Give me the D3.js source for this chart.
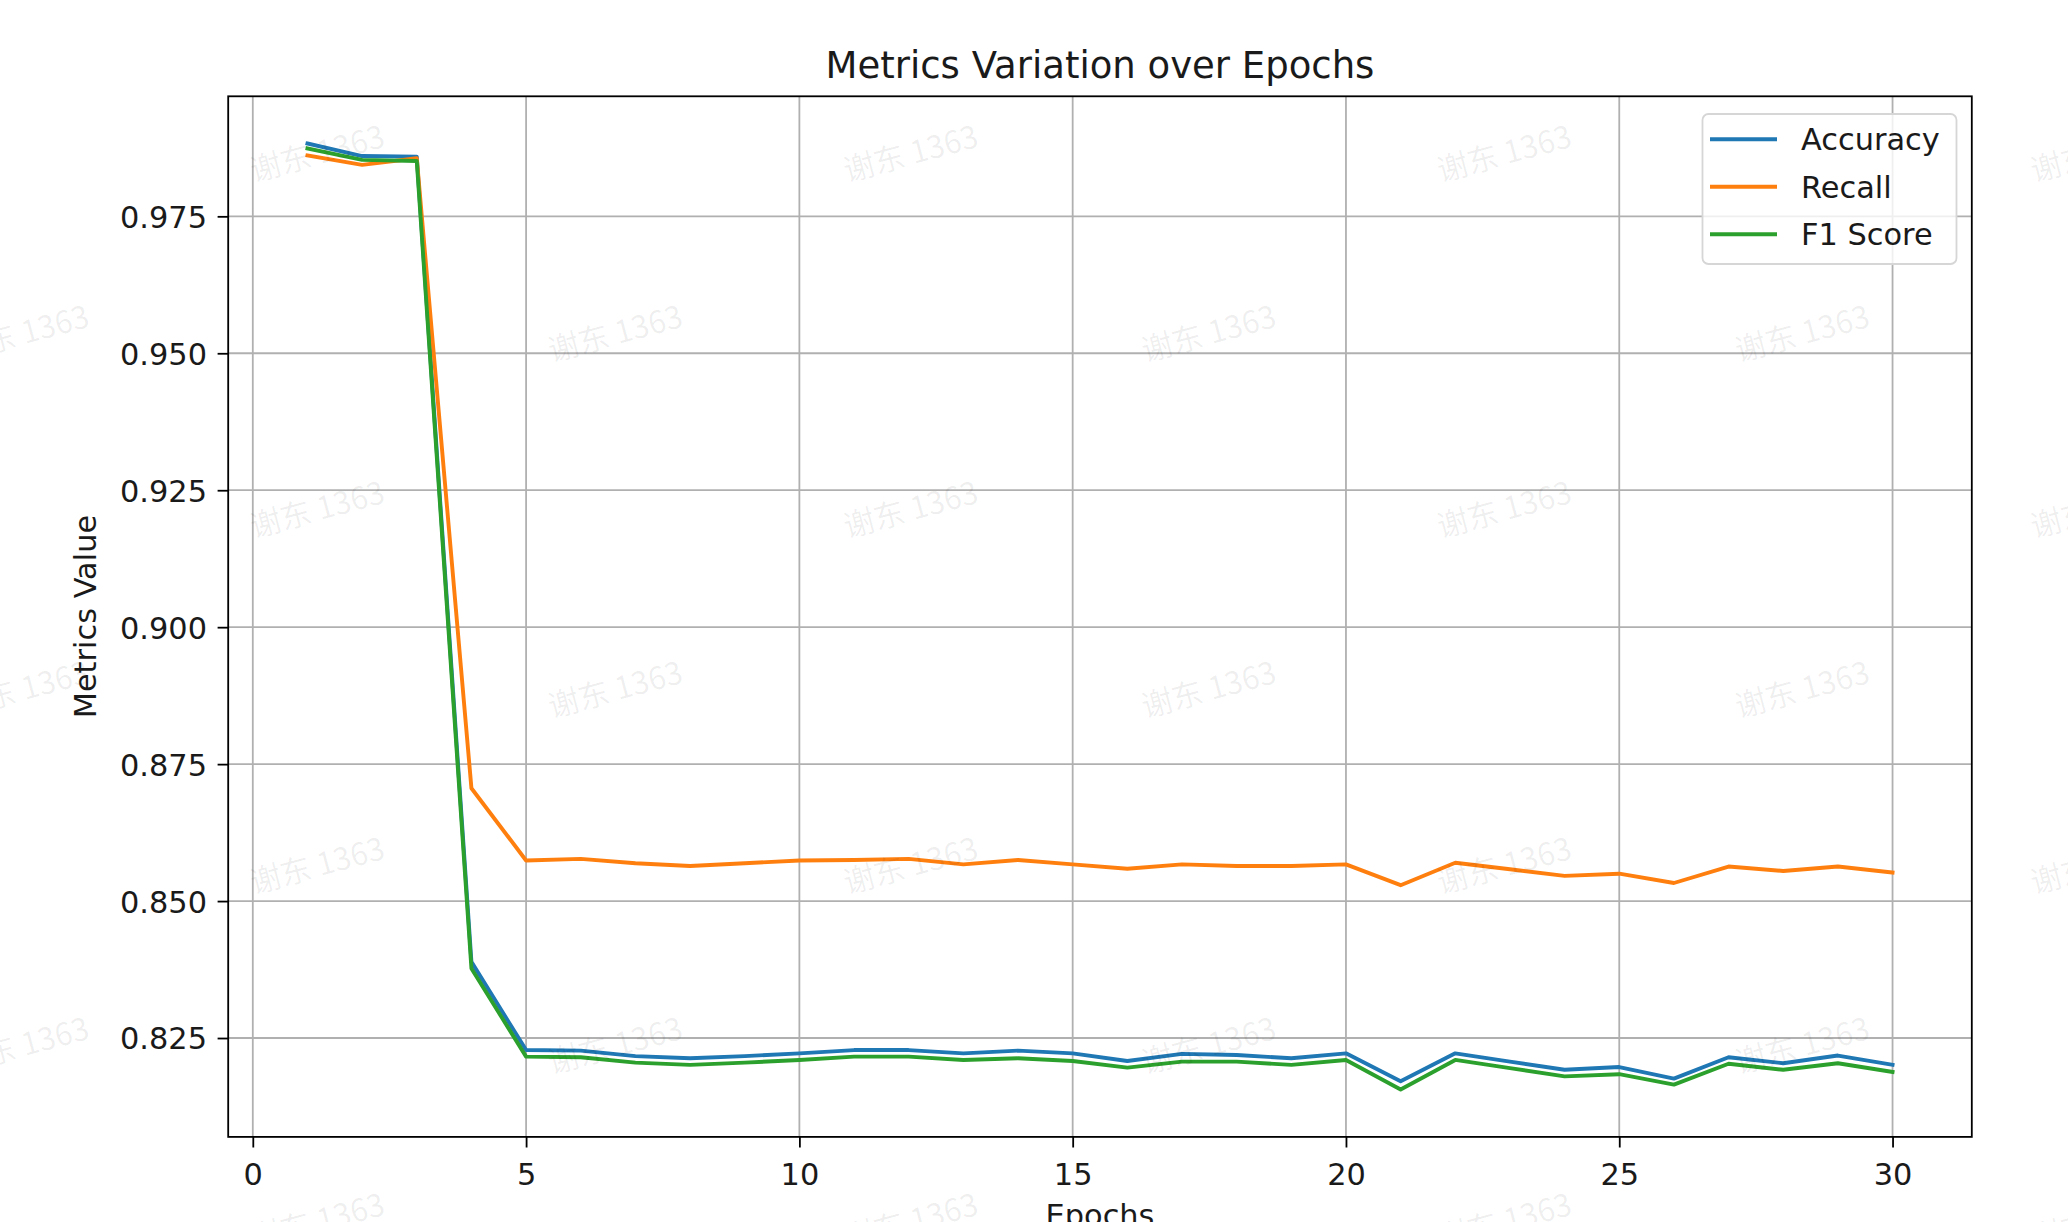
<!DOCTYPE html>
<html>
<head>
<meta charset="utf-8">
<script src="https://cdn.jsdelivr.net/npm/d3@7"></script>
<style>
  html, body { margin: 0; padding: 0; background: #ffffff; }
  svg { display: block; }
</style>
</head>
<body>
<script>
// ---------- data ----------
const epochs = [1,2,3,4,5,6,7,8,9,10,11,12,13,14,15,16,17,18,19,20,21,22,23,24,25,26,27,28,29,30];
const accuracy = [0.9883,0.9860,0.9859,0.8389,0.8228,0.8227,0.8217,0.8213,0.8217,0.8222,0.8228,0.8228,0.8222,0.8227,0.8222,0.8208,0.8221,0.8219,0.8213,0.8222,0.8171,0.8222,0.8207,0.8192,0.8197,0.8176,0.8215,0.8204,0.8218,0.8201];
const recall =   [0.9861,0.9844,0.9856,0.8706,0.8574,0.8577,0.8569,0.8564,0.8569,0.8574,0.8575,0.8577,0.8567,0.8575,0.8567,0.8559,0.8567,0.8564,0.8564,0.8567,0.8529,0.8570,0.8558,0.8546,0.8550,0.8533,0.8563,0.8555,0.8563,0.8552];
const f1 =       [0.9874,0.9853,0.9851,0.8377,0.8216,0.8215,0.8205,0.8201,0.8205,0.8210,0.8216,0.8216,0.8210,0.8213,0.8208,0.8196,0.8207,0.8207,0.8201,0.8210,0.8156,0.8210,0.8195,0.8180,0.8184,0.8165,0.8203,0.8192,0.8204,0.8188];
const seriesNames = ["Accuracy", "Recall", "F1 Score"];
const seriesColors = ["#1f77b4", "#ff7f0e", "#2ca02c"];
const xTicks = [0,5,10,15,20,25,30];
const yTicks = [0.825,0.850,0.875,0.900,0.925,0.950,0.975];
const titleText = "Metrics Variation over Epochs";
const xLabel = "Epochs";
const yLabel = "Metrics Value";
const watermarkText = "谢东 1363";

// ---------- layout ----------
const W = 2068, H = 1222;
const L = 228.2, R = 1971.8, T = 96.3, B = 1136.9;
const FS = 30.4;
const font = "'DejaVu Sans', sans-serif";

const svg = d3.select("body").append("svg").attr("width", W).attr("height", H);
svg.append("rect").attr("width", W).attr("height", H).attr("fill", "#ffffff");

const x = d3.scaleLinear().domain([-0.45, 31.45]).range([L, R]);
const y = d3.scaleLinear().domain([0.80695, 0.99691]).range([B, T]);

// grid
const grid = svg.append("g");
grid.selectAll("line.vx").data(xTicks).join("line")
  .attr("x1", d => x(d)).attr("x2", d => x(d)).attr("y1", T).attr("y2", B)
  .attr("stroke", "#b0b0b0").attr("stroke-width", 1.8);
grid.selectAll("line.hy").data(yTicks).join("line")
  .attr("x1", L).attr("x2", R).attr("y1", d => y(d)).attr("y2", d => y(d))
  .attr("stroke", "#b0b0b0").attr("stroke-width", 1.8);

// lines
const allSeries = [accuracy, recall, f1];
const line = d3.line().x((d, i) => x(epochs[i])).y(d => y(d));
svg.append("clipPath").attr("id", "clip").append("rect")
  .attr("x", L).attr("y", T).attr("width", R - L).attr("height", B - T);
svg.append("g").attr("clip-path", "url(#clip)")
  .selectAll("path").data(allSeries).join("path")
  .attr("d", d => line(d))
  .attr("fill", "none")
  .attr("stroke", (d, i) => seriesColors[i])
  .attr("stroke-width", 3.9)
  .attr("stroke-linejoin", "round")
  .attr("stroke-linecap", "square");

// axes
const xAxis = d3.axisBottom(x).tickValues(xTicks).tickFormat(d3.format("d")).tickSize(10.6).tickPadding(10);
const yAxis = d3.axisLeft(y).tickValues(yTicks).tickFormat(d3.format(".3f")).tickSize(10.6).tickPadding(10.6);

const gx = svg.append("g").attr("transform", `translate(0,${B})`).call(xAxis);
const gy = svg.append("g").attr("transform", `translate(${L},0)`).call(yAxis);
[gx, gy].forEach(g => {
  g.select(".domain").remove();
  g.selectAll(".tick line").attr("stroke", "#000").attr("stroke-width", 1.8);
  g.selectAll(".tick text").attr("font-family", font).attr("font-size", FS).attr("fill", "#1a1a1a");
});
gx.selectAll(".tick text").attr("dy", null).attr("y", 48).attr("dominant-baseline", "auto");
gy.selectAll(".tick text").attr("dy", "0.36em");

// frame
svg.append("rect").attr("x", L).attr("y", T).attr("width", R - L).attr("height", B - T)
  .attr("fill", "none").attr("stroke", "#000").attr("stroke-width", 1.8);

// title & labels
svg.append("text").attr("x", (L + R) / 2).attr("y", 78).attr("text-anchor", "middle")
  .attr("font-family", font).attr("font-size", 37).attr("fill", "#1a1a1a").text(titleText);
svg.append("text").attr("x", (L + R) / 2).attr("y", 1226).attr("text-anchor", "middle")
  .attr("font-family", font).attr("font-size", FS).attr("fill", "#1a1a1a").text(xLabel);
svg.append("text").attr("transform", `translate(96,${(T + B) / 2}) rotate(-90)`).attr("text-anchor", "middle")
  .attr("font-family", font).attr("font-size", FS).attr("fill", "#1a1a1a").text(yLabel);

// legend
const lg = svg.append("g");
lg.append("rect").attr("x", 1702.5).attr("y", 114).attr("width", 254).attr("height", 150)
  .attr("rx", 6).attr("fill", "#ffffff").attr("fill-opacity", 0.8)
  .attr("stroke", "#d6d6d6").attr("stroke-width", 1.8);
const rowY = [139.3, 186.7, 234.3];
seriesNames.forEach((name, i) => {
  lg.append("line").attr("x1", 1710).attr("x2", 1777).attr("y1", rowY[i]).attr("y2", rowY[i])
    .attr("stroke", seriesColors[i]).attr("stroke-width", 3.9);
  lg.append("text").attr("x", 1801).attr("y", rowY[i] + 11).attr("font-family", font)
    .attr("font-size", FS).attr("fill", "#1a1a1a").text(name);
});

// watermark
const wmRowsA = [156, 512, 868, 1224];
const wmRowsB = [-42, 336, 692, 1048];
const wmColsA = [318, 911.5, 1505, 2098.5];
const wmColsB = [22.5, 616, 1209.5, 1803];
const wm = [];
wmRowsA.forEach(ry => wmColsA.forEach(cx => wm.push([cx, ry])));
wmRowsB.forEach(ry => wmColsB.forEach(cx => wm.push([cx, ry])));
svg.append("g").selectAll("text").data(wm).join("text")
  .attr("transform", d => `translate(${d[0]},${d[1]}) rotate(-15)`)
  .attr("text-anchor", "middle").attr("dominant-baseline", "middle")
  .attr("font-family", "'Noto Sans CJK SC', sans-serif").attr("font-size", 31)
  .attr("fill", "#000").attr("fill-opacity", 0.065)
  .text(watermarkText);
</script>
</body>
</html>
